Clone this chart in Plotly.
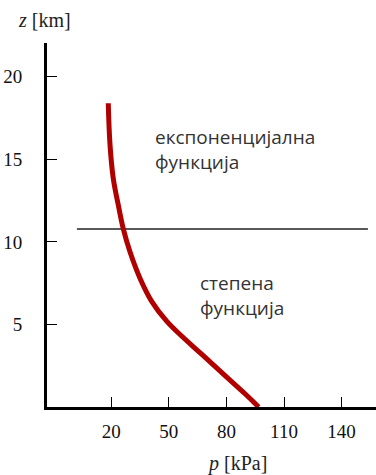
import plotly.graph_objects as go

# Data
pressure_kpa = [18.5, 19.4, 21.1, 23.7, 26.3, 29.8, 35.0, 41.1, 48.9, 56.7, 67.1, 79.3, 89.7, 96.8]
height_km = [18.4, 15.9, 13.85, 12.25, 10.8, 9.4, 7.8, 6.4, 5.2, 4.3, 3.2, 1.9, 0.8, 0.0]

boundary_height = 10.78
boundary_p = [2.2, 153.7]

x_ticks = [20, 50, 80, 110, 140]
y_ticks = [5, 10, 15, 20]

label_upper = "експоненцијална<br>функција"
label_lower = "степена<br>функција"

fig = go.Figure()

fig.add_trace(go.Scatter(
    x=boundary_p, y=[boundary_height, boundary_height],
    mode="lines", line=dict(color="#222222", width=1.5),
    hoverinfo="skip", showlegend=False))

fig.add_trace(go.Scatter(
    x=pressure_kpa, y=height_km,
    mode="lines", line=dict(color="#b00000", width=5, shape="spline", smoothing=1.1),
    showlegend=False))

serif = "Liberation Serif"
sans = "Open Sans"

fig.add_annotation(x=41.8, y=15.6, text=label_upper, showarrow=False,
                   xanchor="left", yanchor="middle", align="left",
                   font=dict(family=sans, size=19, color="#333333"))
fig.add_annotation(x=65.0, y=6.75, text=label_lower, showarrow=False,
                   xanchor="left", yanchor="middle", align="left",
                   font=dict(family=sans, size=19, color="#333333"))

fig.add_annotation(xref="paper", yref="paper", x=-0.009, y=1.063,
                   text="<i>z</i> [km]", showarrow=False,
                   xanchor="center", yanchor="middle",
                   font=dict(family=serif, size=20, color="#222222"))
fig.add_annotation(xref="paper", yref="paper", x=0.578, y=-0.154,
                   text="<i>p</i> [kPa]", showarrow=False,
                   xanchor="center", yanchor="middle",
                   font=dict(family=serif, size=20, color="#222222"))

fig.update_xaxes(range=[-13.4, 157.9], tickvals=x_ticks, ticktext=[str(v) for v in x_ticks],
                 showline=True, linewidth=3, linecolor="black", mirror=False,
                 ticks="inside", ticklen=10, tickwidth=1.3, tickcolor="black",
                 showgrid=False, zeroline=False, ticklabelstandoff=5, automargin=False,
                 tickfont=dict(family=serif, size=19, color="#111111"))
fig.update_yaxes(range=[0, 22.05], tickvals=y_ticks, ticktext=[str(v) for v in y_ticks],
                 showline=True, linewidth=3, linecolor="black", mirror=False,
                 ticks="inside", ticklen=10, tickwidth=1.3, tickcolor="black",
                 showgrid=False, zeroline=False, ticklabelstandoff=18, automargin=False,
                 tickfont=dict(family=serif, size=19, color="#111111"))

fig.update_layout(width=376, height=475,
                  margin=dict(l=47, r=0, t=43, b=68),
                  plot_bgcolor="white", paper_bgcolor="white")

fig.write_html("out.html", config={"displayModeBar": False},
               post_script="document.body.style.margin='0';document.body.style.overflow='hidden';")
